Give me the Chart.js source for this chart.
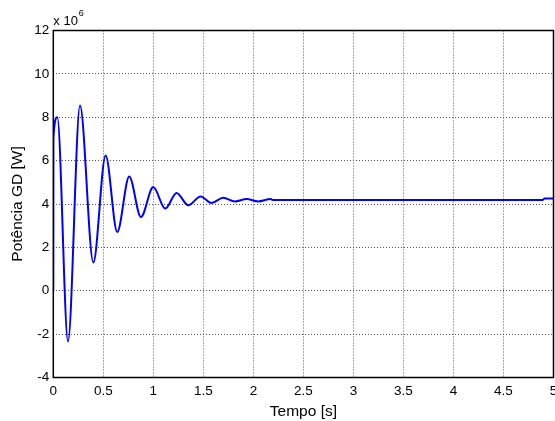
<!DOCTYPE html>
<html>
<head>
<meta charset="utf-8">
<script src="https://cdn.jsdelivr.net/npm/chart.js@4"></script>
<style>
  html, body { margin: 0; padding: 0; background: #fff; }
  #wrap { width: 555px; height: 421px; }
</style>
</head>
<body>
<div id="wrap"><canvas id="chart" width="555" height="421"></canvas></div>
<script>
// values (power in units of 10^6 W)
const timeSec = [0, 0.001, 0.04, 0.147, 0.267, 0.40, 0.523, 0.639, 0.759, 0.876,
    0.999, 1.119, 1.233, 1.349, 1.472, 1.582, 1.698, 1.815, 1.932, 2.048,
    2.172, 2.198, 3.0, 4.0, 4.89, 4.91, 5.0];
const powerMW = [0, 7.02, 8.0, -2.34, 8.54, 1.3, 6.24, 2.71, 5.27, 3.4,
    4.78, 3.79, 4.51, 3.94, 4.35, 4.05, 4.29, 4.12, 4.23, 4.12,
    4.23, 4.18, 4.18, 4.18, 4.18, 4.25, 4.25];

const xTicks = [0, 0.5, 1, 1.5, 2, 2.5, 3, 3.5, 4, 4.5, 5];
const yTicks = [-4, -2, 0, 2, 4, 6, 8, 10, 12];

const FONT = "'Liberation Sans', Arial, sans-serif";

const points = timeSec.map((t, i) => ({ x: t, y: powerMW[i] }));

// box around the axes + the "x 10^6" exponent label
const frameAndExponent = {
    id: "frameAndExponent",
    afterDraw(chart) {
        const { ctx, chartArea: a } = chart;
        ctx.save();
        ctx.strokeStyle = "#000";
        ctx.lineWidth = 1.5;
        ctx.strokeRect(a.left, a.top, a.right - a.left, a.bottom - a.top);
        ctx.fillStyle = "#000";
        ctx.textBaseline = "alphabetic";
        ctx.font = `13px ${FONT}`;
        ctx.fillText("x 10", a.left, 25);
        const w = ctx.measureText("x 10").width;
        ctx.font = `9px ${FONT}`;
        ctx.fillText("6", a.left + w + 1, 16);
        ctx.restore();
    }
};

// keep the plot box fixed, labels may run over the canvas edge
const noLabelPadding = (s) => {
    s.paddingLeft = 0;
    s.paddingRight = 0;
    s.paddingTop = 0;
    s.paddingBottom = 0;
};

new Chart(document.getElementById("chart"), {
    type: "line",
    data: {
        datasets: [{
            data: points,
            borderColor: "#0000ff",
            borderWidth: 2,
            pointRadius: 0,
            fill: false,
            cubicInterpolationMode: "monotone"
        }]
    },
    options: {
        responsive: false,
        animation: false,
        layout: { autoPadding: false, padding: { left: 0, right: 1.5, top: 30.5, bottom: 0 } },
        plugins: { legend: { display: false }, tooltip: { enabled: false } },
        scales: {
            x: {
                type: "linear",
                min: 0,
                max: 5,
                afterBuildTicks: (s) => { s.ticks = xTicks.map(v => ({ value: v })); },
                afterFit: (s) => { s.height = 43.5; noLabelPadding(s); },
                ticks: {
                    color: "#000",
                    font: { family: FONT, size: 13.5 },
                    padding: 6,
                    maxRotation: 0,
                    autoSkip: false,
                    callback: (v) => String(v)
                },
                grid: { color: "#555", lineWidth: 1, drawTicks: false },
                border: { display: false, dash: [1, 2] },
                title: {
                    display: true,
                    text: "Tempo [s]",
                    color: "#000",
                    font: { family: FONT, size: 15.5 },
                    padding: { top: 0, bottom: 0 }
                }
            },
            y: {
                type: "linear",
                min: -4,
                max: 12,
                afterBuildTicks: (s) => { s.ticks = yTicks.map(v => ({ value: v })); },
                afterFit: (s) => { s.width = 53.3; noLabelPadding(s); },
                ticks: {
                    color: "#000",
                    font: { family: FONT, size: 13.5 },
                    padding: 4,
                    autoSkip: false,
                    callback: (v) => String(v)
                },
                grid: { color: "#555", lineWidth: 1, drawTicks: false },
                border: { display: false, dash: [1, 2] },
                title: {
                    display: true,
                    text: "Potência GD [W]",
                    color: "#000",
                    font: { family: FONT, size: 15.5 },
                    padding: { top: 8, bottom: 0 }
                }
            }
        }
    },
    plugins: [frameAndExponent]
});
</script>
</body>
</html>
